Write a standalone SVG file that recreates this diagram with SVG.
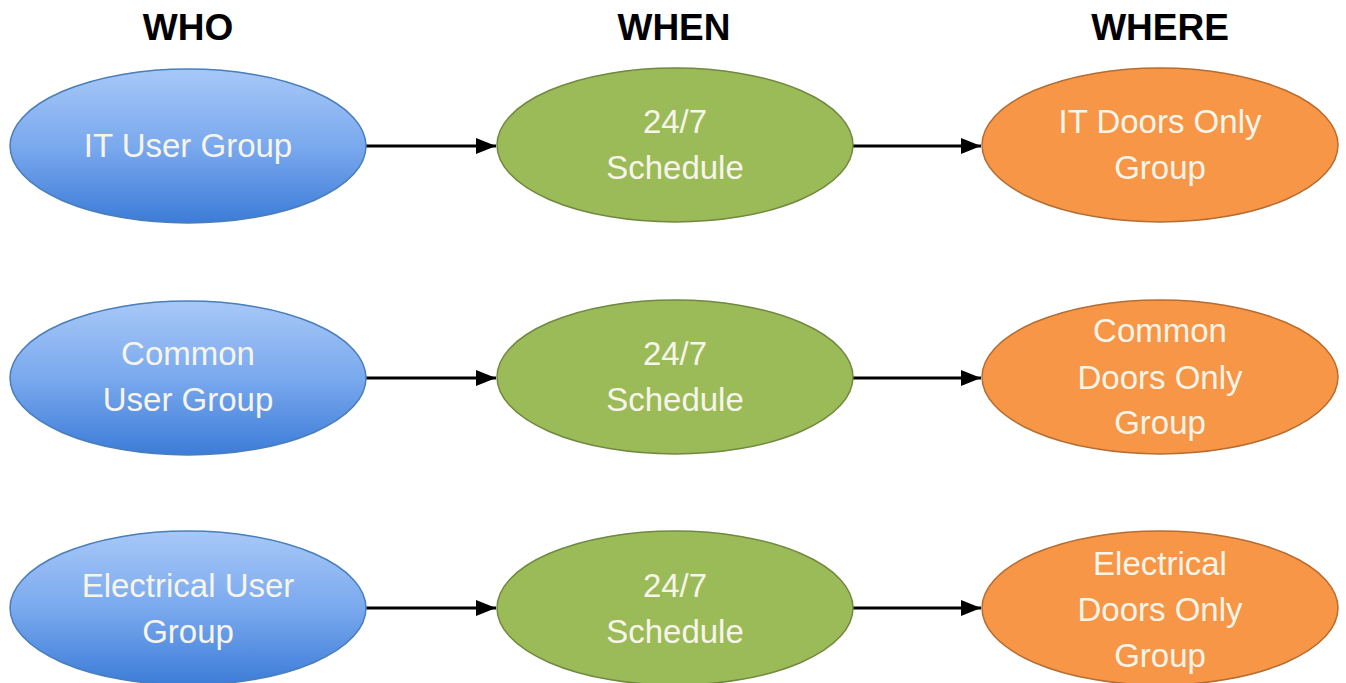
<svg xmlns="http://www.w3.org/2000/svg" width="1346" height="683" viewBox="0 0 1346 683">
<defs>
<linearGradient id="gBlue" x1="0" y1="0" x2="0" y2="1">
<stop offset="0" stop-color="#a7c8f7"/>
<stop offset="0.5" stop-color="#7aa9ee"/>
<stop offset="1" stop-color="#3c7cd8"/>
</linearGradient>
<marker id="arrow" viewBox="0 0 20 20" refX="20" refY="10" markerWidth="20" markerHeight="20" markerUnits="userSpaceOnUse" orient="auto">
<path d="M0,2 L20,10 L0,18 z" fill="#000"/>
</marker>
</defs>
<style>
.head{font-family:"Liberation Sans",Arial,sans-serif;font-weight:bold;font-size:37px;fill:#000;text-anchor:middle}
.lbl{font-family:"Liberation Sans",Arial,sans-serif;font-size:33px;fill:#f7f5ea;text-anchor:middle}
.blue{fill:url(#gBlue);stroke:#4a7ebb;stroke-width:1.5}
.green{fill:#9bbb59;stroke:#71893f;stroke-width:1.5}
.orange{fill:#f79646;stroke:#b66d31;stroke-width:1.5}
.conn{stroke:#000;stroke-width:3;fill:none;marker-end:url(#arrow)}
</style>
<rect width="1346" height="683" fill="#fff"/>
<g id="headings">
<text class="head" x="188" y="40">WHO</text>
<text class="head" x="674" y="40">WHEN</text>
<text class="head" x="1160" y="40">WHERE</text>
</g>
<g id="connectors">
<line class="conn" x1="366" y1="146" x2="496" y2="146"/>
<line class="conn" x1="853" y1="146" x2="981" y2="146"/>
<line class="conn" x1="366" y1="378" x2="496" y2="378"/>
<line class="conn" x1="853" y1="378" x2="981" y2="378"/>
<line class="conn" x1="366" y1="608" x2="496" y2="608"/>
<line class="conn" x1="853" y1="608" x2="981" y2="608"/>
</g>
<g id="who1"><ellipse class="blue" cx="188" cy="146" rx="178" ry="77"/><text class="lbl" x="188" y="157">IT User Group</text></g>
<g id="when1"><ellipse class="green" cx="675" cy="145" rx="178" ry="77"/><text class="lbl" x="675" y="133">24/7</text><text class="lbl" x="675" y="179">Schedule</text></g>
<g id="where1"><ellipse class="orange" cx="1160" cy="145" rx="178" ry="77"/><text class="lbl" x="1160" y="133">IT Doors Only</text><text class="lbl" x="1160" y="179">Group</text></g>
<g id="who2"><ellipse class="blue" cx="188" cy="378" rx="178" ry="77"/><text class="lbl" x="188" y="365">Common</text><text class="lbl" x="188" y="411">User Group</text></g>
<g id="when2"><ellipse class="green" cx="675" cy="377" rx="178" ry="77"/><text class="lbl" x="675" y="365">24/7</text><text class="lbl" x="675" y="411">Schedule</text></g>
<g id="where2"><ellipse class="orange" cx="1160" cy="377" rx="178" ry="77"/><text class="lbl" x="1160" y="342">Common</text><text class="lbl" x="1160" y="389">Doors Only</text><text class="lbl" x="1160" y="434">Group</text></g>
<g id="who3"><ellipse class="blue" cx="188" cy="608" rx="178" ry="77"/><text class="lbl" x="188" y="597">Electrical User</text><text class="lbl" x="188" y="643">Group</text></g>
<g id="when3"><ellipse class="green" cx="675" cy="608" rx="178" ry="77"/><text class="lbl" x="675" y="597">24/7</text><text class="lbl" x="675" y="643">Schedule</text></g>
<g id="where3"><ellipse class="orange" cx="1160" cy="608" rx="178" ry="77"/><text class="lbl" x="1160" y="575">Electrical</text><text class="lbl" x="1160" y="621">Doors Only</text><text class="lbl" x="1160" y="667">Group</text></g>
</svg>
